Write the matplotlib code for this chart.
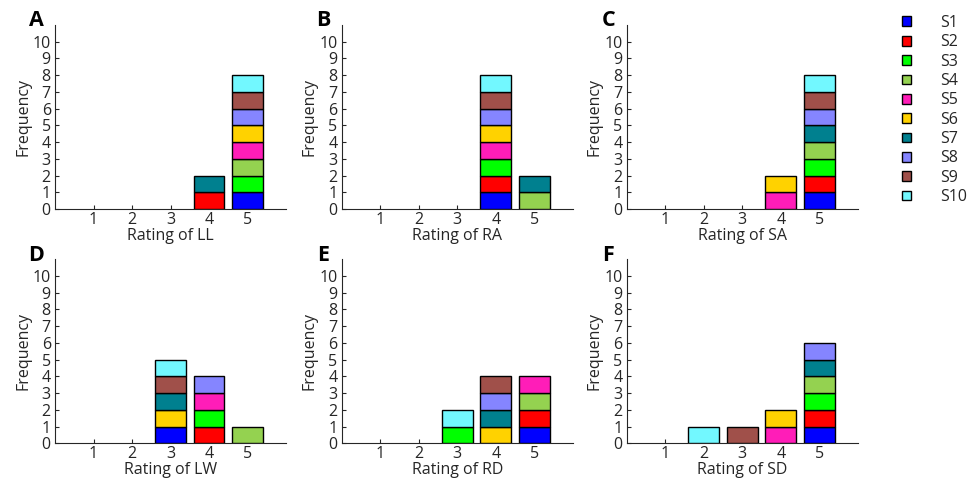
import matplotlib
matplotlib.use("Agg")
import matplotlib.pyplot as plt
from matplotlib.patches import Patch
import numpy as np

plt.rcParams['font.family'] = ['Open Sans', 'DejaVu Sans']

subjects = ['S1', 'S2', 'S3', 'S4', 'S5', 'S6', 'S7', 'S8', 'S9', 'S10']
colors = ['#0000FF', '#FF0000', '#00FF00', '#94D250', '#FF1DB8',
          '#FFD200', '#00808F', '#8585FF', '#A0504A', '#72F8FF']
panels = ['A', 'B', 'C', 'D', 'E', 'F']
attributes = ['LL', 'RA', 'SA', 'LW', 'RD', 'SD']
rating_levels = [1, 2, 3, 4, 5]

# rating given by each subject (S1..S10) for each attribute
ratings_LL = [5, 4, 5, 5, 5, 5, 4, 5, 5, 5]
ratings_RA = [4, 4, 4, 5, 4, 4, 5, 4, 4, 4]
ratings_SA = [5, 5, 5, 5, 4, 4, 5, 5, 5, 5]
ratings_LW = [3, 4, 4, 5, 4, 3, 3, 4, 3, 3]
ratings_RD = [5, 5, 3, 5, 5, 4, 4, 4, 4, 3]
ratings_SD = [5, 5, 5, 5, 4, 4, 5, 5, 3, 2]
all_ratings = [ratings_LL, ratings_RA, ratings_SA, ratings_LW, ratings_RD, ratings_SD]

W, H = 967, 486
fig = plt.figure(figsize=(W / 100, H / 100), dpi=100)

lefts = [55, 341.7, 626.7]
tops = [25, 259.3]
ax_w = 231
ax_h = 184
txtc = '#262626'

for i, (p, attr, r) in enumerate(zip(panels, attributes, all_ratings)):
    row, col = divmod(i, 3)
    l = lefts[col] / W
    b = 1 - (tops[row] + ax_h) / H
    ax = fig.add_axes([l, b, ax_w / W, ax_h / H])
    bottoms = {k: 0 for k in rating_levels}
    for s, (val, c) in enumerate(zip(r, colors)):
        ax.bar(val, 1, bottom=bottoms[val], width=0.8, color=c,
               edgecolor='black', linewidth=1.0, zorder=3)
        bottoms[val] += 1
    ax.set_xlim(0, 6)
    ax.set_ylim(0, 11)
    ax.set_xticks(rating_levels)
    ax.set_yticks(range(0, 11))
    ax.spines['top'].set_visible(False)
    ax.spines['right'].set_visible(False)
    for sp in ['left', 'bottom']:
        ax.spines[sp].set_color(txtc)
        ax.spines[sp].set_linewidth(0.8)
    ax.tick_params(direction='in', length=3, width=0.8, colors=txtc,
                   labelsize=11.5, pad=2)
    ax.tick_params(axis='y', pad=3)
    ax.set_xlabel(f'Rating of {attr}', fontsize=11.5, color=txtc, labelpad=0)
    ax.set_ylabel('Frequency', fontsize=11.5, color=txtc, labelpad=1)
    ax.text(-0.08, 1.022, p, transform=ax.transAxes, fontsize=15.5,
            fontweight='bold', ha='center', va='center', color='black')

handles = [Patch(facecolor=c, edgecolor='black', linewidth=1.0) for c in colors]
fig.legend(handles, subjects, loc='upper left', bbox_to_anchor=(894 / W, 1 - 7 / H),
           frameon=False, fontsize=11.5, handlelength=0.56, handleheight=0.56,
           handletextpad=1.85, labelspacing=0.21, borderpad=0, labelcolor=txtc)

fig.savefig('out.png', dpi=100)
